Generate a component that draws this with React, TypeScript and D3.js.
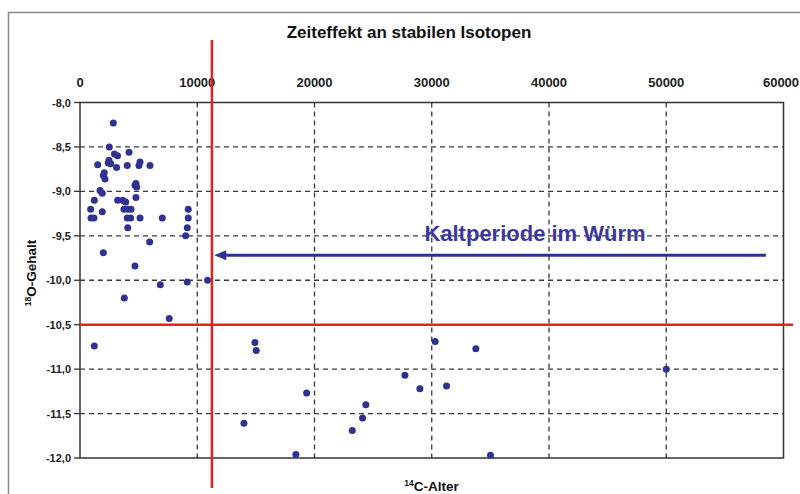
import React from "react";
import * as d3 from "d3";

const ages: number[] = [
  2840, 2500, 2940, 3200, 4180, 1510, 2470, 2410, 2620, 3120, 4030, 5120, 5030, 5970,
  2070, 1990, 2130, 4770, 4690, 4830, 1710, 1900, 4770, 1220, 3210, 3640, 3900, 910,
  3750, 4070, 4350, 1900, 940, 1190, 4030, 4320, 5120, 7020, 9230, 9230, 9150, 4070,
  9010, 5940, 1990, 4690, 3780, 6850, 9150, 10880, 7610, 1220,
  14920, 15030, 13980, 19330, 18410, 23220, 24100, 24380, 27710, 28990, 30290, 31260,
  33760, 35010, 50000,
];
const o18: number[] = [
  -8.23, -8.5, -8.58, -8.6, -8.56, -8.7, -8.65, -8.68, -8.69, -8.73, -8.71, -8.67, -8.71, -8.71,
  -8.79, -8.82, -8.86, -8.91, -8.93, -8.95, -8.99, -9.02, -9.07, -9.1, -9.1, -9.1, -9.12, -9.2,
  -9.2, -9.2, -9.2, -9.23, -9.3, -9.3, -9.3, -9.3, -9.3, -9.3, -9.2, -9.3, -9.41, -9.41,
  -9.5, -9.57, -9.69, -9.84, -10.2, -10.05, -10.02, -10.0, -10.43, -10.74,
  -10.7, -10.79, -11.61, -11.27, -11.96, -11.69, -11.55, -11.4, -11.07, -11.22, -10.69, -11.19,
  -10.77, -11.97, -11.0,
];
const xTicks: number[] = [0, 10000, 20000, 30000, 40000, 50000, 60000];
const yTicks: number[] = [-8.0, -8.5, -9.0, -9.5, -10.0, -10.5, -11.0, -11.5, -12.0];
const boundaryAge = 11250;
const boundaryO18 = -10.5;
const arrowO18 = -9.72;
const arrowFrom = 58500;
const arrowTo = 11450;
const title = "Zeiteffekt an stabilen Isotopen";
const annotation = "Kaltperiode im Würm";

export default function App() {
  const x = d3.scaleLinear().domain([0, 60000]).range([80, 783.5]);
  const y = d3.scaleLinear().domain([-8, -12]).range([102.5, 458]);
  const fmtY = (v: number) => d3.format(".1f")(v).replace(".", ",").replace("−", "-");
  const font = "Arial, 'Liberation Sans', sans-serif";
  const grid = "#3a3a3a";
  const navy = "#2f3390";
  const red = "#e3231f";
  const ay = y(arrowO18);
  const tipX = x(arrowTo);
  return (
    <svg
      width={800}
      height={494}
      style={{ position: "absolute", left: 0, top: 0, background: "#fff" }}
      fontFamily={font}
    >
      <rect x={0} y={0} width={800} height={494} fill="#fff" />
      {/* outer frame */}
      <path d="M8.5,494 L8.5,12.5 L800,12.5" fill="none" stroke="#8a8a8a" strokeWidth={1.5} />
      {/* title */}
      <text x={409} y={38} textAnchor="middle" fontSize={17} fontWeight="bold" fill="#111">
        {title}
      </text>
      {/* grid lines */}
      {yTicks.slice(1, -1).map((t) => (
        <line key={"gy" + t} x1={x(0)} x2={x(60000)} y1={y(t)} y2={y(t)} stroke={grid} strokeWidth={1.3} strokeDasharray="5,4" />
      ))}
      {xTicks.slice(1, -1).map((t) => (
        <line key={"gx" + t} x1={x(t)} x2={x(t)} y1={y(-8)} y2={y(-12)} stroke={grid} strokeWidth={1.3} strokeDasharray="5,4" />
      ))}
      {/* plot border */}
      <rect x={x(0)} y={y(-8)} width={x(60000) - x(0)} height={y(-12) - y(-8)} fill="none" stroke="#333" strokeWidth={1.5} />
      {/* y ticks */}
      {yTicks.map((t) => (
        <g key={"ty" + t}>
          <line x1={x(0) - 6} x2={x(0)} y1={y(t)} y2={y(t)} stroke="#333" strokeWidth={1.3} />
          <text x={71} y={y(t) + 4} textAnchor="end" fontSize={11} fontWeight="bold" fill="#222">
            {fmtY(t)}
          </text>
        </g>
      ))}
      {/* x tick labels on top */}
      {xTicks.map((t) => (
        <text key={"tx" + t} x={Math.min(x(t), 781)} y={87} textAnchor="middle" fontSize={13} fontWeight="bold" fill="#222">
          {t}
        </text>
      ))}
      {/* axis titles */}
      <text transform="translate(36,273) rotate(-90)" textAnchor="middle" fontSize={13.5} fontWeight="bold" fill="#111">
        <tspan fontSize={8.5} dy={-5}>18</tspan>
        <tspan dy={5}>O-Gehalt</tspan>
      </text>
      <text x={431.5} y={491} textAnchor="middle" fontSize={13.5} fontWeight="bold" fill="#111">
        <tspan fontSize={8.5} dy={-5}>14</tspan>
        <tspan dy={5}>C-Alter</tspan>
      </text>
      {/* points */}
      {ages.map((a, i) => (
        <circle key={"p" + i} cx={x(a)} cy={y(o18[i])} r={3.5} fill={navy} />
      ))}
      {/* red boundary lines */}
      <line x1={x(0)} x2={793} y1={y(boundaryO18)} y2={y(boundaryO18)} stroke={red} strokeWidth={2.5} />
      <line x1={x(boundaryAge)} x2={x(boundaryAge)} y1={40} y2={488} stroke={red} strokeWidth={2.5} />
      {/* arrow */}
      <line x1={x(arrowFrom)} x2={tipX + 9} y1={ay} y2={ay} stroke={navy} strokeWidth={3} />
      <path d={`M${tipX},${ay} L${tipX + 12},${ay - 5} L${tipX + 12},${ay + 5} Z`} fill={navy} />
      <text x={535} y={241} textAnchor="middle" fontSize={22} fontWeight="bold" fill="#3a3a9c">
        {annotation}
      </text>
    </svg>
  );
}
